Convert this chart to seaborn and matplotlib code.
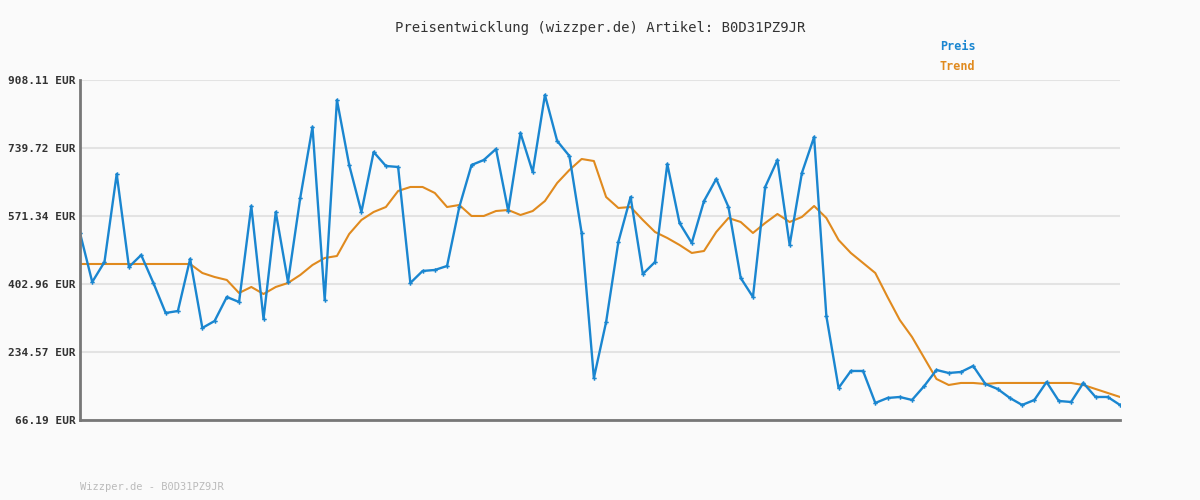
import matplotlib
matplotlib.use("Agg")
import matplotlib.pyplot as plt
import seaborn as sns
import pandas as pd

preis = [529.3, 407.9, 457.5, 675.4, 445.1, 474.8, 405.5, 331.2, 336.1, 464.9,
         294.1, 311.4, 370.8, 358.4, 596.1, 316.3, 581.3, 407.9, 615.9, 791.7,
         363.4, 858.6, 697.6, 581.3, 729.8, 695.2, 692.7, 405.5, 435.2, 437.7,
         447.6, 593.6, 697.6, 710.0, 737.3, 583.7, 776.9, 680.3, 871.0, 757.1,
         719.9, 529.3, 170.3, 308.9, 507.0, 618.4, 427.8, 457.5, 700.1, 554.0,
         504.5, 608.5, 663.0, 593.6, 417.9, 370.8, 643.2, 710.0, 499.6, 677.8,
         767.0, 323.8, 145.5, 187.6, 187.6, 108.4, 120.7, 123.2, 115.8, 150.4,
         190.1, 182.6, 185.1, 200.0, 155.4, 143.0, 120.7, 103.4, 115.8, 160.3,
         113.3, 110.8, 157.9, 123.2, 123.2, 103.4]
trend = [452.5] * 10 + [
         430.2, 420.3, 412.9, 380.7, 395.6, 378.2, 395.6, 405.5, 425.3, 450.0,
         467.4, 472.3, 526.8, 561.5, 581.3, 593.6, 633.3, 643.2, 643.2, 628.3,
         593.6, 598.6, 571.4, 571.4, 583.7, 586.2, 573.8, 583.7, 608.5, 653.1,
         685.3, 712.5, 707.5, 618.4, 591.2, 593.6, 561.5, 531.7, 516.9, 499.6,
         479.8, 484.7, 531.7, 566.4, 556.5, 529.3, 554.0, 576.3, 556.5, 568.9,
         596.1, 566.4, 511.9, 479.8, 455.0, 430.2, 370.8, 313.9, 271.8, 219.8,
         167.8, 152.9, 157.9, 157.9, 155.4, 157.9, 157.9, 157.9, 157.9, 157.9,
         157.9, 157.9, 152.9, 143.0, 133.1, 123.2]
yticks = [66.19, 234.57, 402.96, 571.34, 739.72, 908.11]
ytick_labels = ["66.19 EUR", "234.57 EUR", "402.96 EUR", "571.34 EUR", "739.72 EUR", "908.11 EUR"]

df = pd.DataFrame({"i": range(len(preis)), "Preis": preis, "Trend": trend})

sns.set_style("white")
plt.rcParams['font.family'] = ['DejaVu Sans Mono', 'DejaVu Sans']
fig = plt.figure(figsize=(12, 5), dpi=100, facecolor="#fafafa")
ax = fig.add_axes([80/1200, 80/500, 1040/1200, 340/500])
ax.set_facecolor("#fafafa")
blue = "#1a86d0"
orange = "#e08a1e"
sns.lineplot(data=df, x="i", y="Trend", ax=ax, color=orange, linewidth=1.5)
sns.lineplot(data=df, x="i", y="Preis", ax=ax, color=blue, linewidth=1.7,
             marker="P", markersize=3.2, markeredgewidth=0)
ax.set_xlim(0, len(preis) - 1)
ax.set_ylim(yticks[0], yticks[-1])
ax.set_yticks(yticks)
ax.set_yticklabels(ytick_labels, fontsize=8, fontweight="bold", color="#333333")
ax.set_xticks([])
ax.set_xlabel("")
ax.set_ylabel("")
ax.yaxis.grid(True, color="#e3e3e3", linewidth=1.5)
ax.set_axisbelow(True)
for s in ["top", "right"]:
    ax.spines[s].set_visible(False)
for s in ["left", "bottom"]:
    ax.spines[s].set_color("#777777")
    ax.spines[s].set_linewidth(2)
ax.tick_params(axis="y", length=0, pad=3)
fig.text(0.5, 1 - 28/500, "Preisentwicklung (wizzper.de) Artikel: B0D31PZ9JR",
         ha="center", va="center", fontsize=10, color="#333333")
fig.text(940/1200, 1 - 47/500, "Preis", ha="left", va="center", fontsize=8.5,
         fontweight="bold", color=blue)
fig.text(940/1200, 1 - 67/500, "Trend", ha="left", va="center", fontsize=8.5,
         fontweight="bold", color=orange)
fig.text(80/1200, 1 - 487/500, "Wizzper.de - B0D31PZ9JR", ha="left", va="center",
         fontsize=7.5, color="#bbbbbb")
fig.savefig("out.png", dpi=100, facecolor=fig.get_facecolor())
